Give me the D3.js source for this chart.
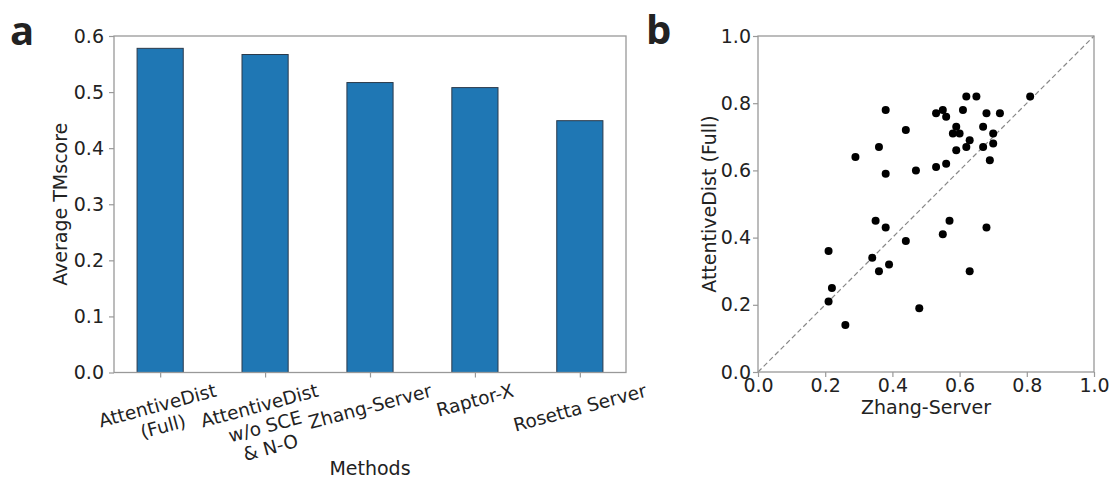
<!DOCTYPE html>
<html><head><meta charset="utf-8">
<script src="https://cdn.jsdelivr.net/npm/d3@7"></script>
<style>
body{margin:0;background:#fff;}
text{font-family:"DejaVu Sans",sans-serif;fill:#222;}
</style></head>
<body><svg id="c" width="1111" height="479"></svg>
<script>
// ---- data ----
const methods = ["AttentiveDist\n(Full)", "AttentiveDist\nw/o SCE\n& N-O", "Zhang-Server", "Raptor-X", "Rosetta Server"];
const avgTM = [0.578, 0.567, 0.517, 0.508, 0.449];
const barTicks = [0.0, 0.1, 0.2, 0.3, 0.4, 0.5, 0.6];
const zhangX = [0.62,0.65,0.81,0.38,0.53,0.55,0.56,0.61,0.68,0.72,0.44,0.59,0.58,0.60,0.67,0.70,0.63,0.36,0.59,0.62,0.67,0.70,0.29,0.69,0.38,0.47,0.53,0.56,0.35,0.38,0.57,0.68,0.55,0.44,0.21,0.34,0.39,0.36,0.63,0.22,0.21,0.48,0.26];
const attY  = [0.82,0.82,0.82,0.78,0.77,0.78,0.76,0.78,0.77,0.77,0.72,0.73,0.71,0.71,0.73,0.71,0.69,0.67,0.66,0.67,0.67,0.68,0.64,0.63,0.59,0.60,0.61,0.62,0.45,0.43,0.45,0.43,0.41,0.39,0.36,0.34,0.32,0.30,0.30,0.25,0.21,0.19,0.14];
const scatTicks = [0.0, 0.2, 0.4, 0.6, 0.8, 1.0];

const svg = d3.select("#c");
const FS = 19, FSL = 18.5;
const spine = "#999";

// ---- panel a ----
const ax = {l:114, r:626, t:36, b:372.5};
const xb = d3.scaleLinear().domain([-0.44, 4.44]).range([ax.l, ax.r]);
const yb = d3.scaleLinear().domain([0, 0.6]).range([ax.b, ax.t]);
const bw = xb(0.44) - xb(0);
const gA = svg.append("g");
gA.selectAll("rect.bar").data(avgTM).enter().append("rect")
  .attr("class","bar")
  .attr("x",(d,i)=>xb(i)-bw/2).attr("width",bw)
  .attr("y",d=>yb(d)).attr("height",d=>yb(0)-yb(d))
  .attr("fill","#1f77b4").attr("stroke","#2b3a4a").attr("stroke-width",1);
gA.append("rect").attr("x",ax.l).attr("y",ax.t).attr("width",ax.r-ax.l).attr("height",ax.b-ax.t)
  .attr("fill","none").attr("stroke",spine).attr("stroke-width",1.3);
const yAxA = gA.append("g").attr("transform",`translate(${ax.l},0)`)
  .call(d3.axisLeft(yb).tickValues(barTicks).tickFormat(d3.format(".1f")).tickSize(5).tickPadding(5));
const xAxA = gA.append("g").attr("transform",`translate(0,${ax.b})`)
  .call(d3.axisBottom(xb).tickValues(d3.range(methods.length)).tickFormat("").tickSize(5));
[yAxA,xAxA].forEach(g=>{g.select(".domain").remove();g.selectAll("line").attr("stroke",spine).attr("stroke-width",1.2);
  g.selectAll("text").style("font-size",FS+"px").style("font-family","DejaVu Sans").attr("fill","#222");});
// rotated category labels
const ang = 15*Math.PI/180, lh = FSL*1.17;
methods.forEach((m,i)=>{
  const lines = m.split("\n");
  const g = gA.append("g");
  const t = g.append("text").attr("text-anchor","middle").style("font-size",FSL+"px");
  lines.forEach((ln,k)=>t.append("tspan").attr("x",0).attr("y",(k-(lines.length-1)/2)*lh).attr("dy","0.35em").text(ln));
  const bb = t.node().getBBox();
  const w = bb.width, h = lines.length*lh;
  const H = w*Math.sin(ang)+h*Math.cos(ang);
  g.attr("transform",`translate(${xb(i)},${ax.b+7+H/2}) rotate(-15)`);
});
gA.append("text").attr("x",(ax.l+ax.r)/2).attr("y",475).attr("text-anchor","middle").style("font-size",FS+"px").text("Methods");
gA.append("text").attr("transform",`translate(67,${(ax.t+ax.b)/2}) rotate(-90)`).attr("text-anchor","middle").style("font-size",FS+"px").text("Average TMscore");
svg.append("text").attr("x",10).attr("y",45).style("font-family","'Open Sans',sans-serif").style("font-weight",700).style("font-size","40px").attr("fill","#000").text("a");

// ---- panel b ----
const bx = {l:758, r:1094, t:36, b:372};
const xs = d3.scaleLinear().domain([0,1]).range([bx.l,bx.r]);
const ys = d3.scaleLinear().domain([0,1]).range([bx.b,bx.t]);
const gB = svg.append("g");
gB.append("line").attr("x1",xs(0)).attr("y1",ys(0)).attr("x2",xs(1)).attr("y2",ys(1))
  .attr("stroke","#888").attr("stroke-width",1.2).attr("stroke-dasharray","5,3");
gB.selectAll("circle").data(zhangX).enter().append("circle")
  .attr("cx",d=>xs(d)).attr("cy",(d,i)=>ys(attY[i])).attr("r",4).attr("fill","#000");
gB.append("rect").attr("x",bx.l).attr("y",bx.t).attr("width",bx.r-bx.l).attr("height",bx.b-bx.t)
  .attr("fill","none").attr("stroke",spine).attr("stroke-width",1.3);
const yAxB = gB.append("g").attr("transform",`translate(${bx.l},0)`)
  .call(d3.axisLeft(ys).tickValues(scatTicks).tickFormat(d3.format(".1f")).tickSize(5).tickPadding(2));
const xAxB = gB.append("g").attr("transform",`translate(0,${bx.b})`)
  .call(d3.axisBottom(xs).tickValues(scatTicks).tickFormat(d3.format(".1f")).tickSize(5).tickPadding(2));
[yAxB,xAxB].forEach(g=>{g.select(".domain").remove();g.selectAll("line").attr("stroke",spine).attr("stroke-width",1.2);
  g.selectAll("text").style("font-size",FS+"px").style("font-family","DejaVu Sans").attr("fill","#222");});
gB.append("text").attr("x",(bx.l+bx.r)/2).attr("y",414).attr("text-anchor","middle").style("font-size",FS+"px").text("Zhang-Server");
gB.append("text").attr("transform",`translate(716,${(bx.t+bx.b)/2}) rotate(-90)`).attr("text-anchor","middle").style("font-size",FS+"px").text("AttentiveDist (Full)");
svg.append("text").attr("x",646).attr("y",44).style("font-family","'Open Sans',sans-serif").style("font-weight",700).style("font-size","40px").attr("fill","#000").text("b");
</script></body></html>
